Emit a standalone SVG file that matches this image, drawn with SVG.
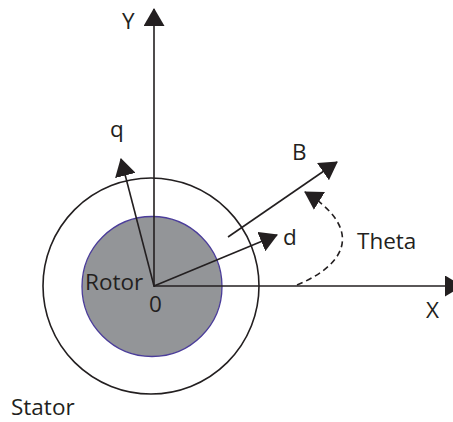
<svg xmlns="http://www.w3.org/2000/svg" width="453" height="422" viewBox="0 0 453 422">
<style>
.ln{stroke:#231f20;stroke-width:1.6;fill:none}
.t{font-family:"Open Sans","Liberation Sans",sans-serif;font-size:22.5px;fill:#231f20}
</style>
<defs>
<marker id="ah" viewBox="0 0 18 21" refX="17" refY="10.5" markerWidth="18" markerHeight="21" markerUnits="userSpaceOnUse" orient="auto">
<path d="M0,0 L18,10.5 L0,21 Z" fill="#231f20"/>
</marker>
</defs>
<rect width="453" height="422" fill="#fff"/>
<g id="stator"><circle cx="151" cy="286" r="108" class="ln" stroke-width="1.3"/><text class="t" x="11" y="415">Stator</text></g>
<g id="rotor"><circle cx="152" cy="286.5" r="70" fill="#939598" stroke="#4b3d9a" stroke-width="1.3"/><text class="t" x="85" y="290">Rotor</text><text class="t" x="149" y="312">0</text></g>
<g id="connectors">
<line class="ln" x1="154" y1="287" x2="154" y2="9" marker-end="url(#ah)"/>
<line class="ln" x1="154" y1="286" x2="462" y2="286" stroke-width="2" marker-end="url(#ah)"/>
<line class="ln" x1="154" y1="286" x2="121" y2="159" marker-end="url(#ah)"/>
<line class="ln" x1="154" y1="286" x2="277" y2="235" marker-end="url(#ah)"/>
<line class="ln" x1="228" y1="237" x2="337" y2="162" marker-end="url(#ah)"/>
<path class="ln" d="M297,285 C352,262 360,226 305,192" stroke-width="1.2" stroke-dasharray="6,4" marker-end="url(#ah)"/>
</g>
<g id="labels">
<text class="t" x="122" y="29">Y</text>
<text class="t" x="426" y="318">X</text>
<text class="t" x="110" y="137">q</text>
<text class="t" x="292" y="160">B</text>
<text class="t" x="283" y="245">d</text>
<text class="t" x="357" y="249">Theta</text>
</g>
</svg>
